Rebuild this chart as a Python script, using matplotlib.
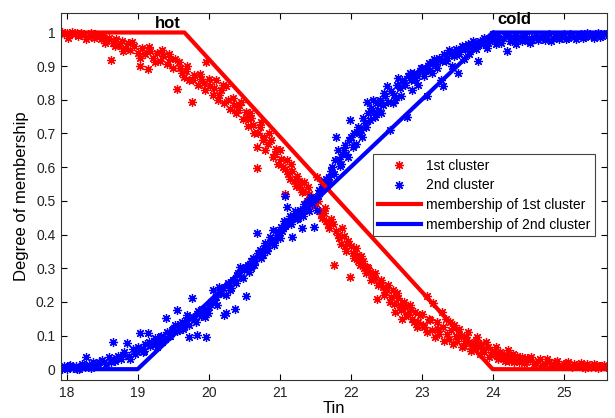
import matplotlib
matplotlib.use("Agg")
import matplotlib.pyplot as plt

plt.rcParams['font.family'] = ['Liberation Sans', 'DejaVu Sans']

# ---------------- data ----------------
# 1st cluster (hot) memberships vs Tin
red_tin = [17.93, 17.96, 18.00, 18.04, 18.08, 18.12, 18.16, 18.20, 18.25, 18.30, 18.34, 18.38, 18.43, 18.48,
           18.52, 18.56, 18.60, 18.63, 18.66, 18.70, 18.74, 18.78, 18.82, 18.86, 18.90, 18.95,
           19.00, 19.03, 19.06, 19.10, 19.14, 19.18, 19.22, 19.27, 19.31, 19.36, 19.41, 19.46,
           19.50, 19.55, 19.58, 19.62, 19.66, 19.70, 19.73, 19.76, 19.80, 19.85, 19.90, 19.95, 19.97,
           20.02, 20.06, 20.10, 20.13, 20.18, 20.22, 20.25, 20.30, 20.34, 20.38, 20.43, 20.48,
           20.52, 20.56, 20.60, 20.64, 20.68, 20.68, 20.72, 20.76, 20.80, 20.85, 20.90, 20.95, 20.98,
           21.02, 21.07, 21.08, 21.12, 21.16, 21.20, 21.25, 21.28, 21.31, 21.35, 21.38, 21.42, 21.47,
           21.52, 21.56, 21.60, 21.64, 21.68, 21.72, 21.77, 21.80, 21.84, 21.88, 21.92, 21.96, 21.99,
           22.03, 22.07, 22.11, 22.15, 22.19, 22.23, 22.27, 22.31, 22.35, 22.37, 22.41, 22.45, 22.49,
           22.52, 22.55, 22.59, 22.63, 22.66, 22.69, 22.73, 22.77, 22.81, 22.85, 22.89, 22.93, 22.97,
           23.02, 23.07, 23.08, 23.12, 23.16, 23.19, 23.23, 23.28, 23.32, 23.36, 23.40, 23.44, 23.48,
           23.53, 23.57, 23.61, 23.65, 23.69, 23.73, 23.78, 23.82, 23.86, 23.91, 23.95, 23.99,
           24.04, 24.08, 24.12, 24.17, 24.21, 24.25, 24.30, 24.34, 24.39, 24.44, 24.49,
           24.54, 24.58, 24.64, 24.70, 24.76, 24.82, 24.88, 24.94, 25.00, 25.06, 25.12, 25.18,
           25.24, 25.30, 25.36, 25.42, 25.48, 25.54, 25.59]
red_mu = [1.000, 0.995, 0.998, 0.992, 1.000, 0.996, 0.990, 0.998, 0.993, 0.988, 0.997, 0.985, 0.992, 0.980,
          0.990, 0.975, 0.985, 0.918, 0.970, 0.982, 0.962, 0.975, 0.955, 0.968, 0.948, 0.960,
          0.940, 0.900, 0.955, 0.935, 0.893, 0.945, 0.925, 0.938, 0.915, 0.930, 0.905, 0.922,
          0.895, 0.832, 0.912, 0.880, 0.868, 0.900, 0.858, 0.795, 0.875, 0.845, 0.862, 0.830, 0.912,
          0.842, 0.815, 0.858, 0.800, 0.828, 0.790, 0.840, 0.772, 0.805, 0.760, 0.785, 0.742,
          0.765, 0.722, 0.745, 0.700, 0.597, 0.660, 0.720, 0.680, 0.650, 0.700, 0.630, 0.655, 0.610,
          0.625, 0.520, 0.595, 0.580, 0.610, 0.560, 0.575, 0.540, 0.526, 0.555, 0.500, 0.520, 0.490,
          0.570, 0.470, 0.450, 0.480, 0.430, 0.445, 0.310, 0.410, 0.390, 0.420, 0.365, 0.380, 0.275,
          0.345, 0.360, 0.320, 0.335, 0.300, 0.304, 0.290, 0.270, 0.285, 0.207, 0.260, 0.245, 0.230,
          0.250, 0.200, 0.235, 0.170, 0.210, 0.190, 0.150, 0.185, 0.160, 0.176, 0.140, 0.125, 0.160,
          0.130, 0.216, 0.110, 0.145, 0.197, 0.095, 0.120, 0.170, 0.085, 0.105, 0.140, 0.075, 0.100,
          0.120, 0.065, 0.085, 0.110, 0.055, 0.075, 0.095, 0.045, 0.060, 0.080, 0.035, 0.050,
          0.065, 0.030, 0.045, 0.025, 0.057, 0.035, 0.020, 0.040, 0.028, 0.018, 0.032,
          0.037, 0.015, 0.025, 0.012, 0.030, 0.010, 0.020, 0.008, 0.015, 0.022, 0.006, 0.012,
          0.018, 0.005, 0.010, 0.015, 0.004, 0.010, 0.006]

# more 1st cluster points inside the dense band, as (Tin, membership)
red_band = [(18.02, 0.985), (18.14, 0.998), (18.27, 0.982), (18.40, 0.995), (18.54, 0.968), (18.68, 0.960),
            (18.80, 0.945), (18.92, 0.972), (19.04, 0.925), (19.16, 0.958), (19.25, 0.912), (19.34, 0.948),
            (19.44, 0.935), (19.53, 0.920), (19.60, 0.895), (19.68, 0.885), (19.78, 0.858), (19.88, 0.878),
            (19.93, 0.850), (20.00, 0.862), (20.08, 0.835), (20.15, 0.815), (20.20, 0.845), (20.28, 0.800),
            (20.36, 0.785), (20.41, 0.770), (20.46, 0.795), (20.54, 0.745), (20.58, 0.760), (20.62, 0.725),
            (20.70, 0.700), (20.74, 0.735), (20.78, 0.690), (20.83, 0.668), (20.88, 0.680), (20.93, 0.640),
            (21.00, 0.650), (21.05, 0.600), (21.10, 0.620), (21.14, 0.565), (21.18, 0.590), (21.23, 0.545),
            (21.27, 0.560), (21.33, 0.530), (21.40, 0.540), (21.45, 0.505), (21.50, 0.485), (21.54, 0.500),
            (21.58, 0.460), (21.62, 0.465), (21.66, 0.440), (21.70, 0.420), (21.75, 0.430), (21.82, 0.400),
            (21.86, 0.372), (21.90, 0.395), (21.94, 0.350), (22.00, 0.365), (22.05, 0.330), (22.09, 0.340),
            (22.13, 0.310), (22.17, 0.320), (22.21, 0.285), (22.25, 0.300), (22.29, 0.265), (22.33, 0.275),
            (22.39, 0.250), (22.43, 0.265), (22.47, 0.220), (22.51, 0.235), (22.57, 0.215), (22.61, 0.195),
            (22.65, 0.225), (22.71, 0.175), (22.75, 0.200), (22.79, 0.165), (22.83, 0.190), (22.87, 0.150),
            (22.91, 0.170), (22.95, 0.140), (23.00, 0.165), (23.04, 0.125), (23.10, 0.150), (23.14, 0.115),
            (23.21, 0.140), (23.25, 0.105), (23.30, 0.125), (23.34, 0.150), (23.38, 0.090), (23.42, 0.115),
            (23.46, 0.130), (23.50, 0.085), (23.55, 0.100), (23.59, 0.070), (23.63, 0.095), (23.67, 0.080),
            (23.71, 0.060), (23.76, 0.085), (23.80, 0.065), (23.84, 0.075), (23.88, 0.050), (23.93, 0.065),
            (23.97, 0.042), (24.02, 0.055), (24.06, 0.040), (24.10, 0.050), (24.14, 0.032), (24.19, 0.042),
            (24.23, 0.025), (24.28, 0.045), (24.32, 0.030), (24.37, 0.020), (24.42, 0.035), (24.47, 0.022),
            (24.52, 0.028), (24.61, 0.018), (24.67, 0.030), (24.73, 0.016), (24.79, 0.022), (24.85, 0.012),
            (24.91, 0.025), (24.97, 0.010), (25.03, 0.018), (25.09, 0.010), (25.15, 0.016), (25.21, 0.008),
            (25.27, 0.012), (25.33, 0.016), (25.39, 0.006), (25.45, 0.012), (25.51, 0.008), (25.57, 0.012)]

# 2nd cluster (cold) memberships vs Tin
blue_tin = [17.93, 17.97, 18.01, 18.05, 18.09, 18.13, 18.18, 18.22, 18.26, 18.28, 18.32, 18.37, 18.41, 18.46,
            18.50, 18.55, 18.60, 18.65, 18.68, 18.72, 18.77, 18.81, 18.85, 18.88, 18.93, 18.97,
            19.01, 19.03, 19.07, 19.11, 19.14, 19.18, 19.23, 19.27, 19.31, 19.35, 19.40, 19.44, 19.48,
            19.52, 19.55, 19.58, 19.62, 19.66, 19.70, 19.73, 19.76, 19.80, 19.83, 19.87, 19.91, 19.95, 19.97,
            20.00, 20.04, 20.06, 20.10, 20.14, 20.18, 20.22, 20.25, 20.28, 20.32, 20.37, 20.40, 20.44, 20.48,
            20.53, 20.53, 20.57, 20.60, 20.64, 20.68, 20.72, 20.76, 20.80, 20.84, 20.86, 20.90, 20.94, 20.98,
            21.02, 21.06, 21.07, 21.10, 21.14, 21.18, 21.22, 21.26, 21.28, 21.31, 21.35, 21.40, 21.44, 21.48,
            21.52, 21.55, 21.59, 21.63, 21.67, 21.70, 21.74, 21.78, 21.80, 21.82, 21.85, 21.88, 21.92, 21.96, 21.99,
            22.03, 22.08, 22.12, 22.16, 22.20, 22.23, 22.27, 22.31, 22.35, 22.39, 22.43, 22.47, 22.51,
            22.55, 22.59, 22.63, 22.67, 22.71, 22.75, 22.79, 22.83, 22.87, 22.91, 22.95, 22.99,
            23.03, 23.07, 23.10, 23.14, 23.18, 23.22, 23.27, 23.30, 23.34, 23.39, 23.43, 23.47,
            23.51, 23.55, 23.59, 23.63, 23.67, 23.72, 23.76, 23.80, 23.84, 23.88, 23.92, 23.96,
            24.00, 24.04, 24.08, 24.12, 24.17, 24.20, 24.24, 24.29, 24.33, 24.38, 24.43, 24.48,
            24.53, 24.58, 24.64, 24.70, 24.76, 24.82, 24.88, 24.94, 25.00, 25.06, 25.12, 25.18,
            25.24, 25.30, 25.36, 25.42, 25.48, 25.54, 25.59]
blue_mu = [0.002, 0.008, 0.000, 0.012, 0.004, 0.010, 0.002, 0.015, 0.006, 0.037, 0.012, 0.020, 0.008, 0.022,
           0.028, 0.015, 0.035, 0.082, 0.025, 0.040, 0.030, 0.050, 0.078, 0.038, 0.060, 0.045,
           0.065, 0.107, 0.050, 0.075, 0.107, 0.068, 0.085, 0.067, 0.095, 0.080, 0.152, 0.100, 0.115,
           0.130, 0.176, 0.115, 0.140, 0.125, 0.160, 0.097, 0.210, 0.150, 0.102, 0.166, 0.180, 0.155, 0.097,
           0.185, 0.200, 0.235, 0.215, 0.245, 0.225, 0.160, 0.166, 0.255, 0.240, 0.180, 0.280, 0.304, 0.270,
           0.216, 0.304, 0.290, 0.320, 0.310, 0.404, 0.354, 0.340, 0.375, 0.360, 0.394, 0.414, 0.385, 0.410,
           0.423, 0.440, 0.513, 0.483, 0.455, 0.394, 0.470, 0.450, 0.473, 0.418, 0.490, 0.500, 0.510, 0.423,
           0.473, 0.532, 0.550, 0.560, 0.545, 0.572, 0.600, 0.620, 0.690, 0.651, 0.602, 0.640, 0.665, 0.630, 0.740,
           0.660, 0.670, 0.700, 0.690, 0.730, 0.793, 0.740, 0.800, 0.750, 0.770, 0.760, 0.820, 0.840,
           0.710, 0.790, 0.800, 0.864, 0.810, 0.850, 0.750, 0.880, 0.830, 0.860, 0.845, 0.895,
           0.870, 0.810, 0.908, 0.880, 0.920, 0.895, 0.860, 0.840, 0.915, 0.947, 0.900, 0.935,
           0.880, 0.950, 0.920, 0.960, 0.935, 0.976, 0.950, 0.915, 0.965, 0.985, 0.955, 0.975,
           0.995, 0.965, 0.985, 0.970, 0.990, 0.945, 0.975, 0.985, 0.965, 0.980, 0.990, 0.977,
           0.970, 0.988, 0.978, 0.992, 0.985, 0.975, 0.990, 0.982, 0.995, 0.985, 0.992, 0.980,
           0.996, 0.988, 0.994, 0.985, 0.998, 0.990, 0.996]

# more 2nd cluster points inside the dense band, as (Tin, membership)
blue_band = [(18.03, 0.010), (18.15, 0.002), (18.24, 0.012), (18.35, 0.005), (18.44, 0.015), (18.53, 0.022),
             (18.62, 0.020), (18.70, 0.032), (18.79, 0.042), (18.90, 0.030), (18.99, 0.052), (19.05, 0.060),
             (19.09, 0.055), (19.16, 0.082), (19.20, 0.075), (19.25, 0.092), (19.29, 0.080), (19.33, 0.100),
             (19.38, 0.090), (19.42, 0.110), (19.46, 0.098), (19.50, 0.120), (19.56, 0.112), (19.60, 0.135),
             (19.64, 0.118), (19.68, 0.145), (19.72, 0.132), (19.78, 0.155), (19.82, 0.140), (19.85, 0.172),
             (19.89, 0.158), (19.93, 0.175), (19.99, 0.168), (20.02, 0.195), (20.08, 0.205), (20.12, 0.190),
             (20.16, 0.225), (20.20, 0.240), (20.24, 0.220), (20.27, 0.250), (20.30, 0.235), (20.34, 0.265),
             (20.38, 0.255), (20.42, 0.285), (20.46, 0.275), (20.50, 0.295), (20.55, 0.310), (20.59, 0.300),
             (20.62, 0.330), (20.66, 0.320), (20.70, 0.345), (20.74, 0.330), (20.78, 0.360), (20.82, 0.350),
             (20.88, 0.380), (20.92, 0.370), (20.96, 0.398), (21.00, 0.390), (21.04, 0.410), (21.08, 0.425),
             (21.12, 0.440), (21.16, 0.430), (21.20, 0.455), (21.24, 0.445), (21.30, 0.465), (21.33, 0.455),
             (21.37, 0.480), (21.42, 0.470), (21.46, 0.495), (21.50, 0.505), (21.54, 0.515), (21.57, 0.530),
             (21.61, 0.540), (21.65, 0.565), (21.69, 0.555), (21.72, 0.590), (21.76, 0.580), (21.84, 0.625),
             (21.87, 0.610), (21.90, 0.650), (21.94, 0.640), (21.98, 0.680), (22.01, 0.690), (22.05, 0.700),
             (22.10, 0.720), (22.14, 0.710), (22.18, 0.745), (22.22, 0.720), (22.25, 0.760), (22.29, 0.775),
             (22.33, 0.765), (22.37, 0.790), (22.41, 0.800), (22.45, 0.785), (22.49, 0.810), (22.53, 0.795),
             (22.57, 0.825), (22.61, 0.815), (22.65, 0.845), (22.69, 0.835), (22.73, 0.860), (22.77, 0.845),
             (22.81, 0.870), (22.85, 0.860), (22.89, 0.880), (22.93, 0.870), (22.97, 0.885), (23.01, 0.895),
             (23.05, 0.885), (23.09, 0.900), (23.12, 0.890), (23.16, 0.910), (23.20, 0.905), (23.25, 0.925),
             (23.29, 0.915), (23.32, 0.935), (23.36, 0.925), (23.41, 0.940), (23.45, 0.930), (23.49, 0.950),
             (23.53, 0.935), (23.57, 0.960), (23.61, 0.950), (23.65, 0.965), (23.69, 0.955), (23.74, 0.970),
             (23.78, 0.960), (23.82, 0.975), (23.86, 0.965), (23.90, 0.980), (23.94, 0.970), (23.98, 0.985),
             (24.02, 0.980), (24.06, 0.990), (24.10, 0.975), (24.15, 0.985), (24.22, 0.990), (24.27, 0.975),
             (24.31, 0.992), (24.36, 0.985), (24.41, 0.975), (24.46, 0.990), (24.51, 0.985), (24.56, 0.978),
             (24.61, 0.992), (24.67, 0.985), (24.73, 0.978), (24.79, 0.995), (24.85, 0.985), (24.91, 0.992),
             (24.97, 0.988), (25.03, 0.982), (25.09, 0.996), (25.15, 0.988), (25.21, 0.992), (25.27, 0.985),
             (25.33, 0.998), (25.39, 0.990), (25.45, 0.994), (25.51, 0.988), (25.57, 0.995)]

# trapezoidal membership functions (break points)
hot_tin = [17.92, 19.66, 24.0, 25.61]
hot_mu = [1, 1, 0, 0]
cold_tin = [17.92, 19.0, 24.0, 25.61]
cold_mu = [0, 0, 1, 1]

xticks = [18, 19, 20, 21, 22, 23, 24, 25]
yticks = [0, 0.1, 0.2, 0.3, 0.4, 0.5, 0.6, 0.7, 0.8, 0.9, 1]
ytick_labels = ['0', '0.1', '0.2', '0.3', '0.4', '0.5', '0.6', '0.7', '0.8', '0.9', '1']

# ---------------- figure ----------------
fig = plt.figure(figsize=(6.15, 4.18), dpi=100)
ax = fig.add_axes([0.099, 0.091, 0.888, 0.878])

star = (8, 2, 0)
mk = dict(linestyle='none', marker=star, markersize=6.5, markeredgewidth=0.9)
rb_x, rb_y = zip(*red_band)
bb_x, bb_y = zip(*blue_band)
ax.plot(red_tin, red_mu, color='#ff0000', label='1st cluster', **mk)
ax.plot(rb_x, rb_y, color='#ff0000', **mk)
ax.plot(blue_tin, blue_mu, color='#0000ff', label='2nd cluster', **mk)
ax.plot(bb_x, bb_y, color='#0000ff', **mk)
ax.plot(hot_tin, hot_mu, color='#ff0000', linewidth=3, label='membership of 1st cluster')
ax.plot(cold_tin, cold_mu, color='#0000ff', linewidth=3, label='membership of 2nd cluster')

ax.set_xlim(17.92, 25.61)
ax.set_ylim(-0.032, 1.058)
ax.set_xticks(xticks)
ax.set_yticks(yticks)
ax.set_yticklabels(ytick_labels)
ax.tick_params(direction='in', top=True, right=True, length=4, labelsize=10,
               labelcolor='#222222', pad=4)
for s in ax.spines.values():
    s.set_linewidth(0.8)
    s.set_color('#333333')

ax.set_xlabel('Tin', fontsize=12, labelpad=1)
ax.set_ylabel('Degree of membership', fontsize=12, labelpad=5)

ax.text(19.42, 1.027, 'hot', fontsize=12, fontweight='bold', ha='center', va='center')
ax.text(24.31, 1.04, 'cold', fontsize=12, fontweight='bold', ha='center', va='center')

leg = ax.legend(loc='upper left', bbox_to_anchor=(0.6065, 0.6316), bbox_transform=fig.transFigure,
                borderaxespad=0, fontsize=10, fancybox=False, framealpha=1, edgecolor='#444444',
                handlelength=3.1, handletextpad=0.35, numpoints=1, labelspacing=0.4, borderpad=0.35)
leg.get_frame().set_linewidth(0.8)

fig.savefig('out.png', dpi=100)
